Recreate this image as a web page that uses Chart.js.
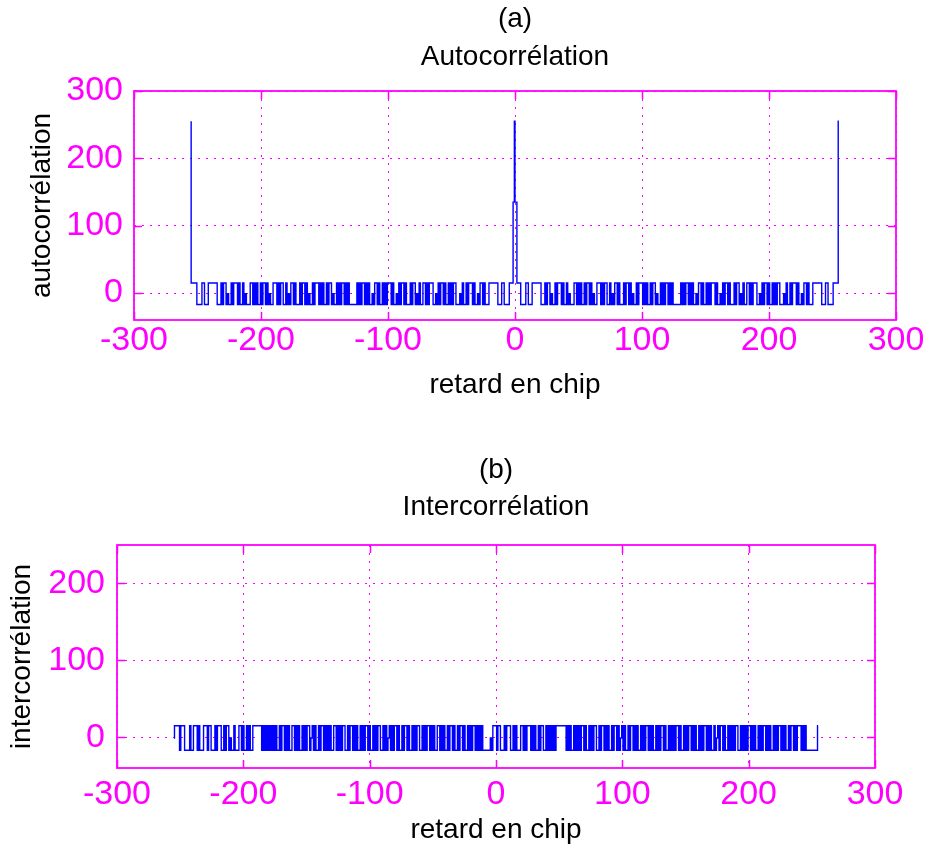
<!DOCTYPE html>
<html>
<head>
<meta charset="utf-8">
<script src="https://cdn.jsdelivr.net/npm/chart.js@4.4.1/dist/chart.umd.min.js"></script>
<style>
  html, body { margin: 0; padding: 0; background: #fff; }
  body { width: 929px; height: 849px; position: relative; overflow: hidden; }
  .panel { position: absolute; left: 0; }
  #autoPanel { top: 0; }
  #interPanel { top: 420px; }
</style>
</head>
<body>
<div class="panel" id="autoPanel"><canvas id="autoChart" width="929" height="420"></canvas></div>
<div class="panel" id="interPanel"><canvas id="interChart" width="929" height="429"></canvas></div>
<script>
// lag axis (chips) and tick labels
const lagStart = -255;
const lagEnd = 255;
const xTicks = [-300, -200, -100, 0, 100, 200, 300];
const autoYTicks = [0, 100, 200, 300];
const interYTicks = [0, 100, 200];
const peakValue = 255;

// (a) autocorrelation, lags -255..255
const autoValues = [
  255,
  // lags -254 .. -1
  15,15,15,15,-17,-17,-17,-17,15,15,-17,-17,-17,15,15,15,15,15,15,15,
  -17,-17,-17,15,-17,15,15,-17,-1,-17,-17,15,-17,15,15,15,-17,15,-17,-17,
  15,-17,-1,-17,-17,-17,15,15,-17,15,-17,15,-17,-17,15,-17,15,15,-17,15,
  -17,-1,-17,-17,15,15,15,-17,15,-17,15,15,-17,-17,15,-17,-1,-17,15,15,
  -17,15,-17,-17,-17,15,-17,15,15,-17,15,-17,-1,-17,-17,15,-17,15,15,15,
  -17,15,-17,15,-17,-17,15,-17,15,15,-17,-1,-17,-17,15,-17,15,-17,15,15,
  -17,15,-17,15,-17,-17,-17,
  -17,-17,-17,15,-17,15,-17,
  15,15,-17,15,-17,15,-17,-17,-1,-17,15,15,-17,15,-17,-17,15,-17,15,-17,
  15,15,15,-17,15,-17,-17,-1,-17,15,-17,15,15,-17,15,-17,-17,-17,15,-17,
  15,15,-17,-1,-17,15,-17,-17,15,15,-17,15,-17,15,15,15,-17,-17,-1,-17,
  15,-17,15,15,-17,15,-17,-17,15,-17,15,-17,15,15,-17,-17,-17,-1,-17,15,
  -17,-17,15,-17,15,15,15,-17,15,-17,-17,-1,-17,15,15,-17,15,-17,-17,-17,
  15,15,15,15,15,15,15,-17,-17,-17,15,15,-17,-17,-17,-17,15,15,15,135,
  255,
  // lags 1 .. 254
  135,15,15,15,-17,-17,-17,-17,15,15,-17,-17,-17,15,15,15,15,15,15,15,
  -17,-17,-17,15,-17,15,15,-17,-1,-17,-17,15,-17,15,15,15,-17,15,-17,-17,
  15,-17,-1,-17,-17,-17,15,15,-17,15,-17,15,-17,-17,15,-17,15,15,-17,15,
  -17,-1,-17,-17,15,15,15,-17,15,-17,15,15,-17,-17,15,-17,-1,-17,15,15,
  -17,15,-17,-17,-17,15,-17,15,15,-17,15,-17,-1,-17,-17,15,-17,15,15,15,
  -17,15,-17,15,-17,-17,15,-17,15,15,-17,-1,-17,-17,15,-17,15,-17,15,15,
  -17,15,-17,15,-17,-17,-17,
  -17,-17,-17,15,-17,15,-17,
  15,15,-17,15,-17,15,-17,-17,-1,-17,15,15,-17,15,-17,-17,15,-17,15,-17,
  15,15,15,-17,15,-17,-17,-1,-17,15,-17,15,15,-17,15,-17,-17,-17,15,-17,
  15,15,-17,-1,-17,15,-17,-17,15,15,-17,15,-17,15,15,15,-17,-17,-1,-17,
  15,-17,15,15,-17,15,-17,-17,15,-17,15,-17,15,15,-17,-17,-17,-1,-17,15,
  -17,-17,15,-17,15,15,15,-17,15,-17,-17,-1,-17,15,15,-17,15,-17,-17,-17,
  15,15,15,15,15,15,15,-17,-17,-17,15,15,-17,-17,-17,-17,15,15,15,15,
  255
];

// (b) cross-correlation, lags -255..255
const interValues = [
  -1,15,15,15,15,-17,15,15,15,-17,-17,-17,-17,15,-17,-17,15,15,15,-17,
  15,-17,-17,-17,15,15,15,-17,15,15,-17,-17,-17,15,-17,15,15,15,-17,-17,
  15,-17,15,15,-17,-1,-17,-17,15,-17,-17,-17,15,15,-17,15,-17,-17,15,-17,
  15,-17,-17,15,15,15,15,15,15,15,-17,15,-17,15,-17,15,-17,15,-17,15,
  -17,15,-17,-17,15,-17,15,15,-17,15,-17,15,-17,-17,15,15,-17,15,-17,15,
  -17,-17,15,-17,15,-17,15,15,-17,-1,15,-17,15,-17,-17,15,-17,15,15,-17,
  15,-17,15,-17,15,-17,-17,15,15,-17,15,-17,15,-17,15,15,-17,-17,15,-17,
  15,15,-17,15,-17,15,-17,-17,15,-17,15,-17,15,15,-17,15,-17,-17,15,-17,
  15,-17,15,15,-17,-17,15,-17,15,-17,-1,15,-17,15,-17,15,15,-17,15,-17,
  -17,15,-17,15,15,-17,15,-17,-17,15,-17,15,-17,15,15,-17,-17,15,-17,15,
  -17,15,15,-17,15,-17,15,-17,-17,15,15,-17,15,-17,15,-17,-17,15,-17,15,
  15,-17,15,-17,-17,15,-17,15,15,-17,15,-17,-17,15,-17,15,-17,15,15,-17,
  15,-17,15,-17,15,-17,-17,-17,-17,-17,-17,-1,-17,15,15,15,-17,15,15,-17,
  -17,-17,15,-17,15,15,15,-17,-17,15,-17,15,-17,-17,-17,15,15,-17,15,-17,
  15,15,15,-17,15,-17,15,-17,-17,15,-17,15,15,-17,-17,15,-17,15,-17,15,
  -17,15,-17,15,15,15,15,15,15,15,15,-17,15,-17,15,-17,-17,15,-17,15,
  -17,15,-17,15,15,-17,15,-17,-17,15,-17,15,-17,15,15,-17,-17,15,-17,15,
  15,-17,15,-17,15,-17,-17,15,-17,15,15,-17,15,-17,-1,15,-17,15,-17,-17,
  15,-17,15,15,-17,15,-17,15,-17,-17,15,-17,15,-17,15,15,-17,15,-17,15,
  -17,-17,15,-17,15,-17,15,15,-17,15,-17,-17,15,-17,15,-17,15,-17,15,15,
  -17,15,-17,-17,15,-17,15,-17,15,15,-17,15,-17,15,-17,-17,15,-17,15,-17,
  15,15,-17,15,-17,15,-17,-17,15,-17,-1,15,-17,15,15,-17,15,-17,-17,15,
  -17,15,-17,15,-17,15,15,-17,-17,15,-17,15,-17,15,-17,15,15,-17,15,-17,
  15,-17,-17,15,-17,15,-17,15,15,-17,15,-17,15,-17,-17,15,-17,15,-17,15,
  15,-17,15,-17,15,-17,-17,15,-17,15,15,-17,15,-17,15,15,15,-17,15,-17,
  15,-17,-17,-17,-17,-17,-17,-17,-17,-17,15
];

const lags = [];
for (let k = lagStart; k <= lagEnd; k++) lags.push(k);

const MAGENTA = '#ff00ff';
const BLUE = '#0000ff';
const FONT = "'Liberation Sans', Arial, Helvetica, sans-serif";

function toSteps(values) {
    const pts = [];
    values.forEach((v, i) => {
        pts.push({ x: lags[i], y: v });
        // peaks are a thin needle, not a one-chip-wide bar
        if (v === peakValue && i + 1 < values.length) {
            pts.push({ x: lags[i], y: values[i + 1] });
        }
    });
    return pts;
}

// box, inward tick marks and the two heading lines
const framePlugin = {
    id: 'frame',
    afterDatasetsDraw(chart, args, opts) {
        const { ctx, chartArea: a } = chart;
        const xs = chart.scales.x;
        const ys = chart.scales.y;
        const t = 8;
        ctx.save();
        ctx.strokeStyle = MAGENTA;
        ctx.lineWidth = 1.8;
        ctx.strokeRect(a.left, a.top, a.right - a.left, a.bottom - a.top);
        ctx.beginPath();
        ctx.lineWidth = 1.5;
        xs.ticks.forEach(tk => {
            const px = Math.round(xs.getPixelForValue(tk.value)) + 0.5;
            ctx.moveTo(px, a.bottom); ctx.lineTo(px, a.bottom - t);
            ctx.moveTo(px, a.top); ctx.lineTo(px, a.top + t);
        });
        ys.ticks.forEach(tk => {
            const py = Math.round(ys.getPixelForValue(tk.value)) + 0.5;
            ctx.moveTo(a.left, py); ctx.lineTo(a.left + t, py);
            ctx.moveTo(a.right, py); ctx.lineTo(a.right - t, py);
        });
        ctx.stroke();
        ctx.fillStyle = '#000';
        ctx.font = `28px ${FONT}`;
        ctx.textAlign = 'center';
        ctx.textBaseline = 'middle';
        const cx = (a.left + a.right) / 2;
        ctx.fillText(opts.tag, cx, opts.tagY);
        ctx.fillText(opts.title, cx, opts.titleY);
        ctx.restore();
    }
};

function makeChart(canvasId, values, s) {
    return new Chart(document.getElementById(canvasId), {
        type: 'line',
        data: {
            datasets: [{
                data: toSteps(values),
                borderColor: BLUE,
                borderWidth: 1.4,
                pointRadius: 0,
                stepped: 'middle',
                fill: false
            }]
        },
        options: {
            responsive: false,
            animation: false,
            events: [],
            layout: { padding: { top: s.top, right: s.right, left: 0, bottom: 0 } },
            plugins: {
                legend: { display: false },
                tooltip: { enabled: false },
                frame: { tag: s.tag, tagY: s.tagY, title: s.title, titleY: s.titleY }
            },
            scales: {
                x: {
                    type: 'linear',
                    min: -300,
                    max: 300,
                    afterBuildTicks: sc => { sc.ticks = xTicks.map(v => ({ value: v })); },
                    afterFit: sc => { sc.height = s.xHeight; },
                    grid: { color: MAGENTA, lineWidth: 1, drawTicks: false },
                    border: { display: false, dash: [2, 6] },
                    ticks: {
                        color: MAGENTA,
                        font: { family: FONT, size: 34, lineHeight: 1 },
                        padding: s.xTickPad,
                        maxRotation: 0,
                        autoSkip: false
                    },
                    title: {
                        display: true,
                        text: 'retard en chip',
                        color: '#000',
                        font: { family: FONT, size: 28 },
                        padding: { top: 0, bottom: s.xTitlePad }
                    }
                },
                y: {
                    type: 'linear',
                    min: s.yMin,
                    max: s.yMax,
                    afterBuildTicks: sc => { sc.ticks = s.yTicks.map(v => ({ value: v })); },
                    afterFit: sc => { sc.width = s.yWidth; },
                    grid: { color: MAGENTA, lineWidth: 1, drawTicks: false },
                    border: { display: false, dash: [2, 6] },
                    ticks: {
                        color: MAGENTA,
                        font: { family: FONT, size: 34, lineHeight: 1 },
                        padding: s.yTickPad,
                        autoSkip: false
                    },
                    title: {
                        display: true,
                        text: s.yTitle,
                        color: '#000',
                        font: { family: FONT, size: 28 },
                        padding: { top: s.yTitlePad, bottom: 0 }
                    }
                }
            }
        },
        plugins: [framePlugin]
    });
}

makeChart('autoChart', autoValues, {
    top: 91, right: 33, yWidth: 134, xHeight: 100,
    yMin: -40, yMax: 300, yTicks: autoYTicks,
    yTickPad: 11, yTitlePad: 25, yTitle: 'autocorrélation',
    xTickPad: 4, xTitlePad: 18,
    tag: '(a)', tagY: 19, title: 'Autocorrélation', titleY: 57
});

makeChart('interChart', interValues, {
    top: 125, right: 54, yWidth: 117, xHeight: 81,
    yMin: -40, yMax: 250, yTicks: interYTicks,
    yTickPad: 12, yTitlePad: 5, yTitle: 'intercorrélation',
    xTickPad: 10, xTitlePad: 2,
    tag: '(b)', tagY: 50, title: 'Intercorrélation', titleY: 87
});
</script>
</body>
</html>
